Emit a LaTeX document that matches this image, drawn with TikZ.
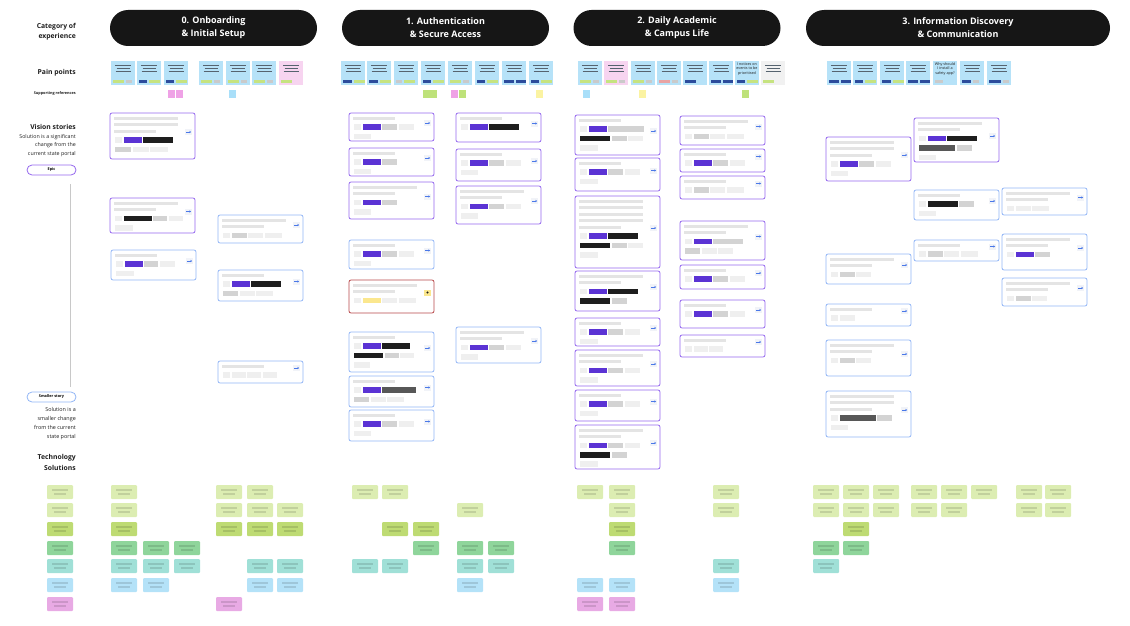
\documentclass[tikz,border=0pt]{standalone}
\usepackage{fontspec}
\setmainfont{Open Sans}
\usepackage{tikz}
\usetikzlibrary{positioning,arrows.meta}
\definecolor{PillBlack}{HTML}{161616}
\definecolor{LabelInk}{HTML}{1E1E1E}
\definecolor{EpicPurple}{HTML}{9568EE}
\definecolor{StoryBlue}{HTML}{92B6F6}
\definecolor{AlertRed}{HTML}{B8484A}
\definecolor{TimeGray}{HTML}{C8C8C8}
\definecolor{TextBlur}{HTML}{E4E4E4}
\definecolor{IconBack}{HTML}{F1F3F8}
\definecolor{ArrowBlue}{HTML}{4A78E8}
\definecolor{TagP}{HTML}{5B33D4}
\definecolor{TagK}{HTML}{1E1E1E}
\definecolor{TagD}{HTML}{575757}
\definecolor{TagG}{HTML}{D3D3D3}
\definecolor{TagL}{HTML}{EFEFEF}
\definecolor{TagY}{HTML}{FBE78E}
\definecolor{NoteBlue}{HTML}{B6E2F8}
\definecolor{NotePink}{HTML}{F7D4F0}
\definecolor{NoteGray}{HTML}{F1F1F1}
\definecolor{NoteInk}{HTML}{56636F}
\definecolor{PBlue}{HTML}{2C4C9C}
\definecolor{PGreen}{HTML}{C6E380}
\definecolor{PGray}{HTML}{CACACA}
\definecolor{PRed}{HTML}{E9A3A3}
\definecolor{RefPink}{HTML}{EFA2E6}
\definecolor{RefBlue}{HTML}{A9DFF9}
\definecolor{RefGreen}{HTML}{BEE27A}
\definecolor{RefYellow}{HTML}{FBF3A2}
\definecolor{TechA}{HTML}{DCEDB2}
\definecolor{TechC}{HTML}{BEDB73}
\definecolor{TechD}{HTML}{8FD59B}
\definecolor{TechE}{HTML}{A0E0D7}
\definecolor{TechF}{HTML}{B4E2F8}
\definecolor{TechG}{HTML}{E8AAE4}

% a row of small tags, chained left to right
\newcommand{\tagrow}[3]{%
  \def\taglist{#3}%
  \ifx\taglist\empty\else
    \node[inner sep=0pt, minimum size=0pt] (tg0) at #2 {};
    \foreach \c/\w [count=\i, remember=\i as \j (initially 0)] in {#3}
      \node[#1, fill=\c, minimum width=\w pt, right=1.2pt of tg\j] (tg\i) {};
  \fi}

% story card: x, y, height, border, text lines, tag row 1, tag row 2
\newcommand{\card}[7]{%
  \draw[card, #4] (#1,#2) rectangle ++(85,#3);
  \foreach \k in {1,...,#5}
    \fill[TextBlur] (#1+4,{#2+3.5+6.5*(\k-1)}) rectangle ++({64-22*(\k==#5)},3);
  \fill[IconBack] (#1+75,{#2+#3/2-7}) rectangle ++(7,6);
  \draw[-{Stealth[length=1.6pt,width=2.2pt]}, ArrowBlue, line width=0.5pt]
    (#1+76,{#2+#3/2-4}) -- ++(5,0);
  \tagrow{tagbox}{(#1+3.5,{#2+7.5+6.5*#5})}{#6}
  \tagrow{tagbox}{(#1+3.5,{#2+17+6.5*#5})}{#7}
}

% pain point sticky: x, fill, bottom bars, text
\newcommand{\painnote}[4]{%
  \fill[#2] (#1,61) rectangle ++(24,24);
  \def\notetext{#4}%
  \ifx\notetext\empty
    \foreach \k/\l in {0/16,1/13,2/15}
      \draw[NoteInk, line width=0.5pt] ({#1+12-\l/2},{65+3*\k}) -- ++(\l,0);
  \else
    \node[stickytext] (pn-#1) at (#1+12,69) {#4};
  \fi
  \tagrow{painbar}{(#1+0.3,81.5)}{#3}
}

\begin{document}
\begin{tikzpicture}[x=1pt, y=-1pt,
    card/.style={fill=white, rounded corners=2pt, line width=0.8pt},
    epic/.style={draw=EpicPurple},
    story/.style={draw=StoryBlue},
    alert/.style={draw=AlertRed},
    tagbox/.style={inner sep=0pt, minimum height=5.5pt},
    painbar/.style={inner sep=0pt, minimum height=3.2pt},
    header/.style={fill=PillBlack, text=white, rounded corners=18pt,
      minimum width=207pt, minimum height=36pt, align=center,
      font=\bfseries\fontsize{9}{13}\selectfont},
    rowlabel/.style={anchor=east, align=right, inner sep=0pt, text=LabelInk,
      font=\bfseries\fontsize{6.8}{10.5}\selectfont},
    desc/.style={anchor=east, align=right, inner sep=0pt, text=LabelInk,
      font=\fontsize{5.3}{8.4}\selectfont},
    pill/.style={rounded corners=5pt, minimum width=49pt, minimum height=10pt,
      line width=0.8pt, fill=white, inner sep=0pt,
      font=\bfseries\fontsize{3.8}{4}\selectfont},
    stickytext/.style={align=center, text=LabelInk, inner sep=0pt,
      font=\fontsize{3.7}{4.8}\selectfont},
    refbox/.style={inner sep=0pt, minimum width=7pt, minimum height=8pt},
    techbox/.style={inner sep=0pt, minimum width=26pt, minimum height=14pt,
      rounded corners=1pt, path picture={
        \draw[black, opacity=0.12, line width=1.2pt]
          ([xshift=-8pt,yshift=2pt]path picture bounding box.center) -- ++(16pt,0)
          ([xshift=-6pt,yshift=-2pt]path picture bounding box.center) -- ++(12pt,0);}},
  ]
  \useasboundingbox (0,0) rectangle (1130,626);

  % row labels
  \node[rowlabel] (lbl-cat) at (76,31.5) {Category of\\experience};
  \node[rowlabel] (lbl-pain) at (76,73) {Pain points};
  \node[rowlabel, font=\bfseries\fontsize{3.8}{4.5}\selectfont] (lbl-refs) at (76,94) {Supporting references};
  \node[rowlabel] (lbl-vision) at (76,127) {Vision stories};
  \node[desc] (lbl-vision-desc) at (76,145.5) {Solution is a significant\\change from the\\current state portal};
  \node[pill, draw=EpicPurple] (epic-tag) at (51.5,170) {Epic};
  \coordinate (scale-top) at (70,184);
  \coordinate (scale-bot) at (70,387);
  \draw[TimeGray, line width=0.5pt] (scale-top) -- (scale-bot);
  \node[pill, draw=StoryBlue] (story-tag) at (51.5,397) {Smaller story};
  \node[desc, font=\fontsize{5.4}{9}\selectfont] (lbl-story-desc) at (76,424) {Solution is a\\smaller change\\from the current\\state portal};
  \node[rowlabel] (lbl-tech) at (76,462.5) {Technology\\Solutions};

  % categories
  \node[header] (cat0) at (213.5,28) {0. Onboarding\\\& Initial Setup};
  \node[header] (cat1) at (445.5,28) {1. Authentication\\\& Secure Access};
  \node[header] (cat2) at (677,28) {2. Daily Academic\\\& Campus Life};
  \node[header, minimum width=304pt] (cat3) at (958,28) {3. Information Discovery\\\& Communication};

  % pain points
  \painnote{111}{NoteBlue}{PGreen/11,PGray/6}{}
  \painnote{137}{NoteBlue}{PBlue/8,PGreen/11}{}
  \painnote{164}{NoteBlue}{PBlue/8,PGreen/11}{}
  \painnote{199}{NoteBlue}{PGreen/11,PGray/6}{}
  \painnote{226}{NoteBlue}{PGreen/11,PGray/6}{}
  \painnote{252}{NoteBlue}{PGreen/11,PGray/6}{}
  \painnote{279}{NotePink}{PGreen/11}{}

  \painnote{341}{NoteBlue}{PBlue/9,PGreen/11}{}
  \painnote{367}{NoteBlue}{PBlue/9,PGreen/11}{}
  \painnote{394}{NoteBlue}{PGray/6,PGreen/11}{}
  \painnote{421}{NoteBlue}{PBlue/8,PGreen/11}{}
  \painnote{448}{NoteBlue}{PGreen/11,PGray/6}{}
  \painnote{475}{NoteBlue}{PBlue/8,PGreen/11}{}
  \painnote{502}{NoteBlue}{PBlue/10,PBlue/10}{}
  \painnote{529}{NoteBlue}{PBlue/8,PGreen/11}{}

  \painnote{578}{NoteBlue}{PGreen/11,PGray/6}{}
  \painnote{604}{NotePink}{PGreen/11,PGray/6}{}
  \painnote{631}{NoteBlue}{PGreen/11,PGray/6}{}
  \painnote{657}{NoteBlue}{PRed/11,PGray/6}{}
  \painnote{683}{NoteBlue}{PBlue/11}{}
  \painnote{709}{NoteBlue}{PBlue/10,PBlue/10}{}
  \painnote{735}{NoteBlue}{PBlue/8,PGreen/11}{I notices on\\events to be\\prioritised}
  \painnote{761}{NoteGray}{PGreen/11}{}

  \painnote{827}{NoteBlue}{PBlue/10,PBlue/10}{}
  \painnote{853}{NoteBlue}{PBlue/8,PGreen/11}{}
  \painnote{880}{NoteBlue}{PBlue/9,PGreen/11}{}
  \painnote{906}{NoteBlue}{PBlue/10,PBlue/10}{}
  \painnote{933}{NoteBlue}{PGray/8}{Why should\\I install a\\safety app?}
  \painnote{960}{NoteBlue}{PBlue/9,PGray/6}{}
  \painnote{987}{NoteBlue}{PBlue/12,PGray/6}{}

  % supporting references
  \node[refbox, fill=RefPink] (ref-a) at (171.5,94) {};
  \node[refbox, fill=RefPink] (ref-b) at (179.5,94) {};
  \node[refbox, fill=RefBlue] (ref-c) at (232.5,94) {};
  \node[refbox, fill=RefGreen, minimum width=14pt] (ref-d) at (430,94) {};
  \node[refbox, fill=RefPink] (ref-e) at (454.5,94) {};
  \node[refbox, fill=RefGreen] (ref-f) at (462.5,94) {};
  \node[refbox, fill=RefYellow] (ref-g) at (539.5,94) {};
  \node[refbox, fill=RefBlue] (ref-h) at (586.5,94) {};
  \node[refbox, fill=RefYellow] (ref-i) at (642.5,94) {};
  \node[refbox, fill=RefGreen] (ref-j) at (745.5,94) {};

  % 0. onboarding
  \card{110}{113}{46}{epic}{3}{TagL/7,TagP/18,TagK/30}{TagG/16,TagL/16,TagL/18}
  \card{110}{198}{35}{epic}{2}{TagL/7,TagK/28,TagG/14,TagL/14}{TagL/18}
  \card{111}{250}{30}{story}{1}{TagL/7,TagP/18,TagG/14,TagL/15}{TagL/18}
  \card{218}{215}{28}{story}{2}{TagL/7,TagG/15,TagL/15,TagL/17}{}
  \card{218}{270}{31}{story}{1}{TagL/7,TagP/18,TagK/30}{TagG/15,TagL/15,TagL/17}
  \card{218}{361}{22}{story}{1}{TagL/7,TagL/14,TagL/14,TagL/14}{}

  % 1. authentication
  \card{349}{113}{28}{epic}{1}{TagL/7,TagP/18,TagG/15,TagL/15}{TagL/17}
  \card{349}{148}{28}{epic}{1}{TagL/7,TagP/18,TagG/15}{TagL/17}
  \card{349}{182}{37}{epic}{2}{TagL/7,TagP/18,TagG/15}{TagL/17}
  \card{349}{240}{29}{story}{1}{TagL/7,TagP/18,TagG/15,TagL/15}{TagL/17}
  \card{349}{280}{33}{alert}{2}{TagL/7,TagY/18,TagL/15,TagL/17}{}
  \fill[TagY] (424,289.5) rectangle ++(7,6);
  \fill[TagK] (427.5,292.5) circle (1.1);
  \card{349}{332}{40}{story}{1}{TagL/7,TagP/18,TagK/28}{TagK/29,TagG/14,TagL/14}
  \tagrow{tagbox}{(352.5,365)}{TagL/16}
  \card{349}{376}{31}{story}{1}{TagL/7,TagP/18,TagD/34}{TagG/15,TagL/15,TagL/17}
  \card{349}{410}{31}{story}{1}{TagL/7,TagP/18,TagG/15,TagL/15}{TagL/17}

  \card{456}{113}{29}{epic}{1}{TagL/7,TagP/18,TagK/30}{}
  \card{456}{149}{32}{epic}{1}{TagL/7,TagP/18,TagG/15,TagL/15}{TagL/17}
  \card{456}{186}{38}{epic}{2}{TagL/7,TagP/18,TagG/15,TagL/15}{TagL/17}
  \card{456}{327}{36}{story}{2}{TagL/7,TagP/18,TagG/15,TagL/15}{TagL/17}

  % 2. daily academic
  \card{575}{115}{40}{epic}{1}{TagL/7,TagP/18,TagG/36}{TagK/30,TagG/15,TagL/15}
  \tagrow{tagbox}{(578.5,148)}{TagL/18}
  \card{575}{158}{33}{epic}{1}{TagL/7,TagP/18,TagG/15,TagL/15}{TagL/18}
  \card{575}{196}{72}{epic}{5}{TagL/7,TagP/18,TagK/30}{TagK/30,TagG/15,TagL/15}
  \tagrow{tagbox}{(578.5,255)}{TagL/18}
  \card{575}{271}{40}{epic}{2}{TagL/7,TagP/18,TagK/30}{TagK/30,TagG/15}
  \card{575}{318}{28}{epic}{1}{TagL/7,TagP/18,TagG/15,TagL/15}{TagL/18}
  \card{575}{350}{36}{epic}{2}{TagL/7,TagP/18,TagG/15,TagL/15}{TagL/18}
  \card{575}{390}{31}{epic}{1}{TagL/7,TagP/18,TagG/15,TagL/15}{TagL/18}
  \card{575}{425}{44}{epic}{2}{TagL/7,TagP/18,TagG/15,TagL/15}{TagK/30,TagG/15}
  \tagrow{tagbox}{(578.5,464)}{TagL/18}

  \card{680}{116}{29}{epic}{2}{TagL/7,TagG/15,TagL/15,TagL/17}{}
  \card{680}{149}{23}{epic}{1}{TagL/7,TagP/18,TagG/15,TagL/15}{}
  \card{680}{176}{23}{epic}{1}{TagL/7,TagG/15,TagL/15,TagL/17}{}
  \card{680}{221}{39}{epic}{2}{TagL/7,TagP/18,TagG/30}{TagG/15,TagL/15,TagL/15}
  \card{680}{265}{24}{epic}{1}{TagL/7,TagP/18,TagG/15,TagL/15}{}
  \card{680}{300}{28}{epic}{1}{TagL/7,TagP/18,TagG/15,TagL/15}{}
  \card{680}{335}{22}{epic}{1}{TagL/7,TagL/14,TagL/14}{}

  % 3. information discovery
  \card{826}{137}{44}{epic}{3}{TagL/7,TagP/18,TagG/15,TagL/15}{TagL/17}
  \card{914}{118}{44}{epic}{2}{TagL/7,TagP/18,TagK/30}{TagD/36,TagG/15}
  \tagrow{tagbox}{(917.5,157.5)}{TagL/17}
  \card{914}{190}{30}{story}{1}{TagL/7,TagK/30,TagG/15}{TagL/17}
  \card{914}{240}{21}{story}{1}{TagL/7,TagG/15,TagL/15,TagL/17}{}
  \card{1002}{188}{27}{story}{2}{TagL/7,TagL/15,TagL/17}{}
  \card{1002}{234}{36}{story}{2}{TagL/7,TagP/18,TagG/15}{}
  \card{1002}{278}{28}{story}{2}{TagL/7,TagG/15,TagL/15}{}
  \card{826}{254}{30}{story}{2}{TagL/7,TagG/15,TagL/15}{}
  \card{826}{304}{22}{story}{1}{TagL/7,TagL/15}{}
  \card{826}{340}{36}{story}{2}{TagL/7,TagG/15,TagL/15}{}
  \card{826}{391}{46}{story}{3}{TagL/7,TagD/36,TagG/15}{TagL/17}

  % technology solutions
  \foreach \x in {47,111,216,247,352,382,577,609,713,813,843,873,911,941,971,1016,1045}
    \node[techbox, fill=TechA] (techA-\x) at (\x+13,492) {};
  \foreach \x in {47,111,216,247,277,457,609,713,813,843,873,911,941,1016,1045}
    \node[techbox, fill=TechA] (techB-\x) at (\x+13,510) {};
  \foreach \x in {47,111,216,247,277,382,413,609,843}
    \node[techbox, fill=TechC] (techC-\x) at (\x+13,529) {};
  \foreach \x in {47,111,143,174,413,457,488,609,813,843}
    \node[techbox, fill=TechD] (techD-\x) at (\x+13,548) {};
  \foreach \x in {47,111,143,174,247,277,352,382,457,488,713,813}
    \node[techbox, fill=TechE] (techE-\x) at (\x+13,566) {};
  \foreach \x in {47,111,143,247,277,457,577,609,713}
    \node[techbox, fill=TechF] (techF-\x) at (\x+13,585) {};
  \foreach \x in {47,216,577,609}
    \node[techbox, fill=TechG] (techG-\x) at (\x+13,604) {};
\end{tikzpicture}
\end{document}
